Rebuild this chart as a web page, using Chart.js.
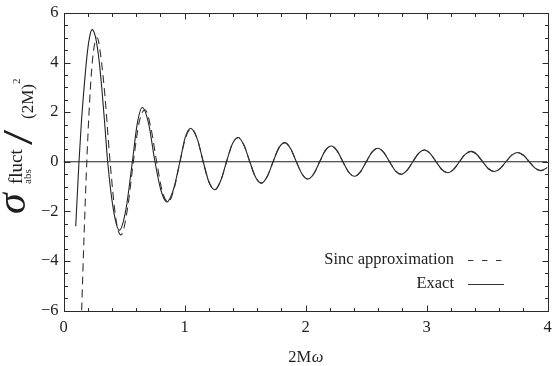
<!DOCTYPE html>
<html>
<head>
<meta charset="utf-8">
<script src="https://cdn.jsdelivr.net/npm/chart.js@4.4.1/dist/chart.umd.min.js"></script>
<style>
  html, body { margin: 0; padding: 0; background: #ffffff; }
  canvas { display: block; }
</style>
</head>
<body>
<canvas id="c" width="552" height="366"></canvas>
<script>
// ---------------- data ----------------
const xTickValues = [0, 1, 2, 3, 4];
const xTickLabels = ['0', '1', '2', '3', '4'];
const yTickValues = [-6, -4, -2, 0, 2, 4, 6];
const yTickLabels = ['\u22126', '\u22124', '\u22122', '0', '2', '4', '6'];
const xMinorStep = 0.2;
const yMinorStep = 0.5;

const seriesNames = ['Sinc approximation', 'Exact'];

// Sinc approximation, low-frequency part
const sincHeadX = [0.150, 0.160, 0.170, 0.180, 0.1925, 0.215, 0.2406, 0.2752, 0.2887, 0.3368,
  0.3849, 0.4330, 0.4732, 0.4811, 0.5292, 0.5774, 0.6255, 0.6736, 0.7217, 0.7698,
  0.8179, 0.8660, 0.9141, 0.9623, 1.0104, 1.0585, 1.1066];
const sincHeadY = [-6.0, -4.45, -2.98, -1.58, 0, 2.36, 4.147, 5.00, 4.887, 2.962,
  0, -2.304, -2.95, -2.932, -1.885, 0, 1.595, 2.095, 1.382, 0,
  -1.220, -1.629, -1.091, 0, 0.987, 1.333, 0.902];

// Exact, low-frequency part
const exactHeadX = [0.101, 0.115, 0.128, 0.148, 0.172, 0.197, 0.215, 0.236, 0.260, 0.288,
  0.316, 0.343, 0.365, 0.413, 0.461, 0.515, 0.569, 0.610, 0.651, 0.703,
  0.756, 0.805, 0.855, 0.908, 0.962, 1.005, 1.050, 1.1066];
const exactHeadY = [-2.60, -1.25, 0, 1.60, 3.10, 4.40, 5.02, 5.33, 5.12, 4.33,
  3.00, 1.38, 0, -1.95, -2.76, -1.95, 0, 1.55, 2.19, 1.55,
  0, -1.15, -1.62, -1.13, 0, 0.96, 1.35, 0.902];

// high-frequency part, where both curves coincide in the picture
const tailX = [1.1547, 1.2028, 1.2509, 1.2990, 1.3472, 1.3953, 1.4434, 1.4915,
  1.5396, 1.5877, 1.6358, 1.6839, 1.7321, 1.7802, 1.8283, 1.8764,
  1.9245, 1.9726, 2.0207, 2.0688, 2.1170, 2.1651, 2.2132, 2.2613,
  2.3094, 2.3575, 2.4056, 2.4537, 2.5019, 2.5500, 2.5981, 2.6462,
  2.6943, 2.7424, 2.7905, 2.8386, 2.8868, 2.9349, 2.9830, 3.0311,
  3.0792, 3.1273, 3.1754, 3.2235, 3.2717, 3.3198, 3.3679, 3.4160,
  3.4641, 3.5122, 3.5603, 3.6084, 3.6566, 3.7047, 3.7528, 3.8009,
  3.8490, 3.8971, 3.9452, 3.9933, 4.0000];
const tailY = [0, -0.829, -1.128, -0.768, 0, 0.715, 0.977, 0.669,
  0, -0.628, -0.862, -0.592, 0, 0.560, 0.772, 0.532,
  0, -0.506, -0.698, -0.482, 0, 0.461, 0.637, 0.441,
  0, -0.423, -0.586, -0.407, 0, 0.391, 0.543, 0.377,
  0, -0.364, -0.506, -0.351, 0, 0.340, 0.473, 0.329,
  0, -0.319, -0.444, -0.309, 0, 0.301, 0.419, 0.292,
  0, -0.284, -0.396, -0.276, 0, 0.269, 0.376, 0.262,
  0, -0.256, -0.358, -0.250, -0.221];

const zeroLineX = [0, 4];
const zeroLineY = [0, 0];

// ---------------- build ----------------
const pairs = (xs, ys) => xs.map((x, i) => ({ x: x, y: ys[i] }));
const sincData = pairs(sincHeadX.concat(tailX), sincHeadY.concat(tailY));
const exactData = pairs(exactHeadX.concat(tailX), exactHeadY.concat(tailY));

const SERIF = "'Liberation Serif', 'Times New Roman', 'DejaVu Serif', serif";
const INK = '#1e1e1e';

const decorPlugin = {
  id: 'decor',
  afterDraw(chart) {
    const ctx = chart.ctx;
    const a = chart.chartArea;
    const xs = chart.scales.x, ys = chart.scales.y;
    ctx.save();
    // frame
    ctx.strokeStyle = '#2a2a2a';
    ctx.lineWidth = 1;
    ctx.strokeRect(Math.round(a.left) + 0.5, Math.round(a.top) + 0.5,
      Math.round(a.right) - Math.round(a.left), Math.round(a.bottom) - Math.round(a.top));
    // ticks (inward, on all four sides)
    ctx.beginPath();
    const MAJ = 6, MIN = 3.5;
    const L0 = Math.round(a.left) + 0.5, R0 = Math.round(a.right) + 0.5;
    const T0 = Math.round(a.top) + 0.5, B0 = Math.round(a.bottom) + 0.5;
    for (let v = xs.min; v <= xs.max + 1e-9; v += xMinorStep) {
      const isMaj = xTickValues.some(t => Math.abs(t - v) < 1e-6);
      const L = isMaj ? MAJ : MIN;
      const px = Math.round(xs.getPixelForValue(v)) + 0.5;
      ctx.moveTo(px, B0); ctx.lineTo(px, B0 - L);
      ctx.moveTo(px, T0); ctx.lineTo(px, T0 + L);
    }
    for (let v = ys.min; v <= ys.max + 1e-9; v += yMinorStep) {
      const isMaj = yTickValues.some(t => Math.abs(t - v) < 1e-6);
      const L = isMaj ? MAJ : MIN;
      const py = Math.round(ys.getPixelForValue(v)) + 0.5;
      ctx.moveTo(L0, py); ctx.lineTo(L0 + L, py);
      ctx.moveTo(R0, py); ctx.lineTo(R0 - L, py);
    }
    ctx.stroke();

    // x title: 2M (upright) + omega (italic)
    ctx.fillStyle = INK;
    ctx.textBaseline = 'middle';
    ctx.textAlign = 'left';
    ctx.font = '16.5px ' + SERIF;
    const w1 = ctx.measureText('2M').width;
    ctx.font = 'italic 16.5px ' + SERIF;
    const w2 = ctx.measureText('\u03c9').width;
    const cx = (a.left + a.right) / 2;
    const x0 = cx - (w1 + w2) / 2;
    ctx.font = '16.5px ' + SERIF;
    ctx.fillText('2M', x0, 358);
    ctx.font = 'italic 16.5px ' + SERIF;
    ctx.fillText('\u03c9', x0 + w1 + 0.5, 358);

    // legend
    ctx.font = '16.5px ' + SERIF;
    ctx.textAlign = 'right';
    ctx.fillText(seriesNames[0], 454, 260);
    ctx.fillText(seriesNames[1], 454, 284);
    ctx.strokeStyle = '#333';
    ctx.lineWidth = 1;
    ctx.setLineDash([5.5, 8.5]);
    ctx.beginPath(); ctx.moveTo(468, 260.5); ctx.lineTo(504, 260.5); ctx.stroke();
    ctx.setLineDash([]);
    ctx.beginPath(); ctx.moveTo(468, 284.5); ctx.lineTo(504, 284.5); ctx.stroke();

    // y title (rotated, reading upward); local (u, v) -> screen (v, -u)
    ctx.rotate(-Math.PI / 2);
    ctx.textAlign = 'left';
    ctx.textBaseline = 'alphabetic';
    ctx.fillStyle = INK;
    ctx.font = 'italic 42px ' + SERIF;
    ctx.fillText('\u03c3', -214, 25);
    ctx.font = '19px ' + SERIF;
    ctx.fillText('fluct', -184, 22);
    ctx.font = '11px ' + SERIF;
    ctx.fillText('abs', -184, 31);
    // large slash
    ctx.save();
    ctx.translate(-145, 32);
    ctx.scale(1.3, 1);
    ctx.font = '42px ' + SERIF;
    ctx.fillText('/', 0, 0);
    ctx.restore();
    ctx.font = '17px ' + SERIF;
    ctx.fillText('(2M)', -119, 33);
    ctx.font = '11px ' + SERIF;
    ctx.fillText('2', -84, 20);
    ctx.restore();
  }
};

new Chart(document.getElementById('c'), {
  type: 'line',
  data: {
    datasets: [
      { label: 'zero', data: pairs(zeroLineX, zeroLineY), borderColor: '#222', borderWidth: 1,
        pointRadius: 0, tension: 0 },
      { label: seriesNames[0], data: sincData, borderColor: '#333', borderWidth: 1.1,
        borderDash: [8, 5], pointRadius: 0, cubicInterpolationMode: 'monotone' },
      { label: seriesNames[1], data: exactData, borderColor: '#222', borderWidth: 1.1,
        pointRadius: 0, cubicInterpolationMode: 'monotone' }
    ]
  },
  options: {
    responsive: false,
    animation: false,
    devicePixelRatio: 1,
    layout: { padding: { top: 13, right: 4.5, left: 0, bottom: 0 } },
    plugins: { legend: { display: false }, tooltip: { enabled: false }, title: { display: false } },
    scales: {
      x: {
        type: 'linear', min: 0, max: 4,
        afterBuildTicks: s => { s.ticks = xTickValues.map(v => ({ value: v })); },
        afterFit: s => { s.height = 55.5; s.paddingLeft = 0; s.paddingRight = 0; },
        ticks: { callback: (v) => xTickLabels[xTickValues.indexOf(v)], font: { family: SERIF, size: 16.5 },
          color: INK, padding: 7, maxRotation: 0, autoSkip: false },
        grid: { display: false, drawTicks: false },
        border: { display: false }
      },
      y: {
        type: 'linear', min: -6, max: 6,
        afterBuildTicks: s => { s.ticks = yTickValues.map(v => ({ value: v })); },
        afterFit: s => { s.width = 63.5; s.paddingTop = 0; s.paddingBottom = 0; },
        ticks: { callback: (v) => yTickLabels[yTickValues.indexOf(v)], font: { family: SERIF, size: 16.5 },
          color: INK, padding: 5, autoSkip: false },
        grid: { display: false, drawTicks: false },
        border: { display: false }
      }
    }
  },
  plugins: [decorPlugin]
});
</script>
</body>
</html>
